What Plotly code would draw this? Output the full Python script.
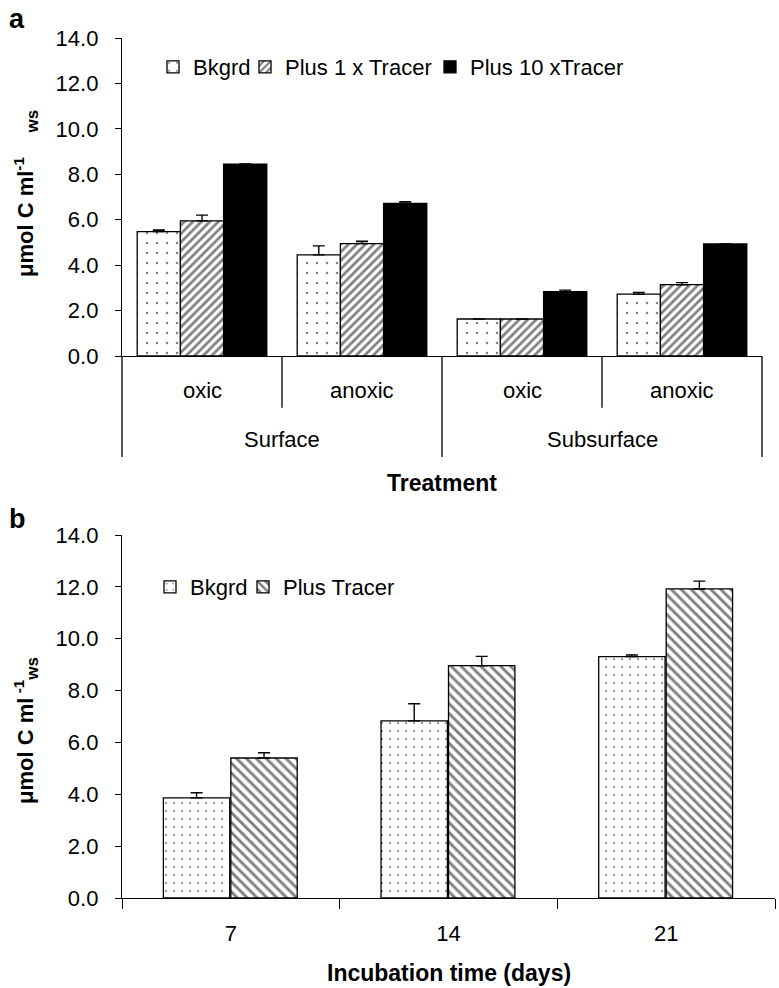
import plotly.graph_objects as go

# ---------------- data ----------------
# Panel a
depth = ["Surface", "Surface", "Subsurface", "Subsurface"]
redox = ["oxic", "anoxic", "oxic", "anoxic"]
a_series = ["Bkgrd", "Plus 1 x Tracer", "Plus 10 xTracer"]
a_bkgrd = [5.48, 4.45, 1.63, 2.72]
a_bkgrd_err = [0.07, 0.40, 0.0, 0.08]
a_plus1 = [5.95, 4.95, 1.63, 3.14]
a_plus1_err = [0.25, 0.10, 0.0, 0.09]
a_plus10 = [8.45, 6.72, 2.83, 4.93]
a_plus10_err = [0.0, 0.07, 0.07, 0.0]

# Panel b
days = ["7", "14", "21"]
b_series = ["Bkgrd", "Plus Tracer"]
b_bkgrd = [3.86, 6.83, 9.31]
b_bkgrd_err = [0.20, 0.66, 0.06]
b_plus = [5.40, 8.96, 11.92]
b_plus_err = [0.20, 0.36, 0.30]

y_ticks = [0, 2, 4, 6, 8, 10, 12, 14]

# ---------------- styling ----------------
FONT = "Liberation Sans, Arial, Helvetica, sans-serif"
W, H = 779, 988

def px_x(p):
    return p / W

def px_y(p):
    return 1 - p / H

fig = go.Figure()

xa = list(range(len(redox)))

def err(arr):
    return dict(type="data", array=arr, arrayminus=[0] * len(arr), symmetric=False,
                color="black", thickness=1.4, width=6)

bar_line = dict(color="black", width=1.3)

# one legend per entry so each swatch sits where the reference puts it
fig.add_trace(go.Bar(
    x=xa, y=a_bkgrd, name=a_series[0], error_y=err(a_bkgrd_err),
    width=0.27, offset=-0.405, xaxis="x", yaxis="y", legend="legend",
    marker=dict(color="white", line=bar_line,
                pattern=dict(shape=".", fgcolor="black", bgcolor="white", size=10, solidity=0.05)),
))
fig.add_trace(go.Bar(
    x=xa, y=a_plus1, name=a_series[1], error_y=err(a_plus1_err),
    width=0.27, offset=-0.135, xaxis="x", yaxis="y", legend="legend2",
    marker=dict(color="white", line=bar_line,
                pattern=dict(shape="/", fgcolor="black", bgcolor="white", size=6, solidity=0.45)),
))
fig.add_trace(go.Bar(
    x=xa, y=a_plus10, name=a_series[2], error_y=err(a_plus10_err),
    width=0.27, offset=0.135, xaxis="x", yaxis="y", legend="legend3",
    marker=dict(color="black", line=bar_line),
))

fig.add_trace(go.Bar(
    x=days, y=b_bkgrd, name=b_series[0], error_y=err(b_bkgrd_err),
    width=0.305, offset=-0.31, xaxis="x2", yaxis="y2", legend="legend4",
    marker=dict(color="white", line=bar_line,
                pattern=dict(shape=".", fgcolor="black", bgcolor="white", size=8, solidity=0.06)),
))
fig.add_trace(go.Bar(
    x=days, y=b_plus, name=b_series[1], error_y=err(b_plus_err),
    width=0.305, offset=0.0, xaxis="x2", yaxis="y2", legend="legend5",
    marker=dict(color="white", line=bar_line,
                pattern=dict(shape="\\", fgcolor="black", bgcolor="white", size=7, solidity=0.42)),
))

yax_common = dict(
    range=[0, 14], tickvals=y_ticks, tickformat=".1f", ticks="outside", ticklen=6,
    tickwidth=1.3, tickcolor="black", showline=True, linecolor="black", linewidth=1.3,
    showgrid=False, zeroline=False, ticklabelstandoff=12, automargin=False,
    tickfont=dict(family=FONT, size=22, color="black"),
)

def leg(x_px, y_px):
    return dict(orientation="h", x=px_x(x_px), y=px_y(y_px), xanchor="left", yanchor="middle",
                bgcolor="rgba(0,0,0,0)", font=dict(family=FONT, size=22, color="black"),
                itemwidth=30)

fig.update_layout(
    width=W, height=H,
    margin=dict(l=0, r=0, t=0, b=0, autoexpand=False),
    paper_bgcolor="white", plot_bgcolor="white",
    barmode="group",
    font=dict(family=FONT, color="black"),
    xaxis=dict(domain=[px_x(122), px_x(762)], range=[-0.5, len(redox) - 0.5],
               showticklabels=False, ticks="", showline=True, linecolor="black",
               linewidth=1.3, showgrid=False, zeroline=False, anchor="y",
               automargin=False),
    yaxis=dict(domain=[px_y(356), px_y(38)], anchor="x", **yax_common),
    xaxis2=dict(domain=[px_x(122), px_x(775)], type="category", categoryarray=days,
                range=[-0.5, len(days) - 0.5],
                ticks="outside", tickson="boundaries", ticklen=10, tickwidth=1.3,
                tickcolor="black", showline=True, linecolor="black", linewidth=1.3,
                showgrid=False, zeroline=False, anchor="y2", ticklabelstandoff=15,
                automargin=False,
                tickfont=dict(family=FONT, size=22, color="black")),
    yaxis2=dict(domain=[px_y(898), px_y(535)], anchor="x2", **yax_common),
    legend=leg(153, 67),
    legend2=leg(245, 67),
    legend3=leg(430, 67),
    legend4=leg(150, 587),
    legend5=leg(243, 587),
    showlegend=True,
)

# ---- panel a hierarchical category axis (dividers + labels) ----
n = len(redox)
shapes = []
for i in range(n + 1):
    outer = (i == 0) or (i == n) or (depth[i] != depth[i - 1])
    shapes.append(dict(type="line", xref="x domain", yref="y domain",
                       x0=i / n, x1=i / n, y0=0, y1=(-0.318 if outer else -0.163),
                       line=dict(color="black", width=1.3)))
fig.update_layout(shapes=shapes)

ann = []
for i, lab in enumerate(redox):
    ann.append(dict(x=i, y=-0.11, xref="x", yref="y domain", text=lab, showarrow=False,
                    font=dict(family=FONT, size=22, color="black"),
                    xanchor="center", yanchor="middle"))
groups = []
for i, d in enumerate(depth):
    if not groups or groups[-1][0] != d:
        groups.append([d, i, i])
    else:
        groups[-1][2] = i
for d, i0, i1 in groups:
    ann.append(dict(x=(i0 + i1) / 2, y=-0.264, xref="x", yref="y domain", text=d,
                    showarrow=False, font=dict(family=FONT, size=22, color="black"),
                    xanchor="center", yanchor="middle"))

# axis titles
ann.append(dict(x=0.5, y=px_y(483), xref="x domain", yref="paper", text="<b>Treatment</b>",
                showarrow=False, font=dict(family=FONT, size=23, color="black"),
                xanchor="center", yanchor="middle"))
ann.append(dict(x=0.5, y=px_y(973), xref="x2 domain", yref="paper",
                text="<b>Incubation time (days)</b>", showarrow=False,
                font=dict(family=FONT, size=23, color="black"),
                xanchor="center", yanchor="middle"))
ann.append(dict(x=px_x(26), y=px_y(194), xref="paper", yref="paper", textangle=-90,
                text="<b>μmol C ml<sup>-1</sup>    <sub><span style='font-size:17px'>ws</span></sub></b>",
                showarrow=False, font=dict(family=FONT, size=22, color="black"),
                xanchor="center", yanchor="middle"))
ann.append(dict(x=px_x(26), y=px_y(731), xref="paper", yref="paper", textangle=-90,
                text="<b>μmol C ml<sup> -1</sup><sub><span style='font-size:17px'>ws</span></sub></b>",
                showarrow=False, font=dict(family=FONT, size=22, color="black"),
                xanchor="center", yanchor="middle"))
# panel letters
ann.append(dict(x=px_x(7), y=px_y(19), xref="paper", yref="paper", text="<b>a</b>",
                showarrow=False, font=dict(family=FONT, size=27, color="black"),
                xanchor="left", yanchor="middle"))
ann.append(dict(x=px_x(7), y=px_y(519), xref="paper", yref="paper", text="<b>b</b>",
                showarrow=False, font=dict(family=FONT, size=27, color="black"),
                xanchor="left", yanchor="middle"))
fig.update_layout(annotations=ann)

# the page's default body margin would shift the 779x988 figure; remove it
fig.write_html("out.html", config={"displayModeBar": False},
               post_script="document.body.style.margin='0';document.body.style.overflow='hidden';")
